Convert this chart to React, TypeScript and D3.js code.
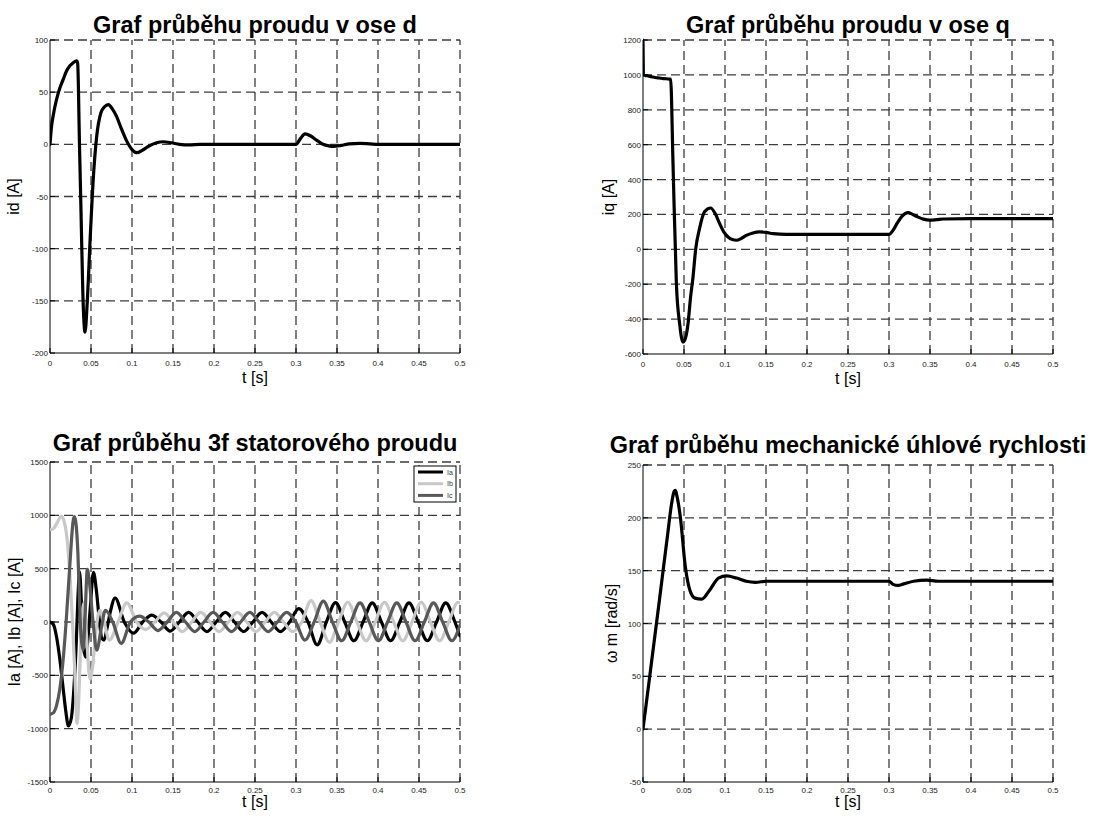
import React from "react";
import * as d3 from "d3";

type Pt = [number, number];

// time axis shared by all four plots
const timeTicks = [0, 0.05, 0.1, 0.15, 0.2, 0.25, 0.3, 0.35, 0.4, 0.45, 0.5];

const idTicks = [-200, -150, -100, -50, 0, 50, 100];
const iqTicks = [-600, -400, -200, 0, 200, 400, 600, 800, 1000, 1200];
const iabcTicks = [-1500, -1000, -500, 0, 500, 1000, 1500];
const omegaTicks = [-50, 0, 50, 100, 150, 200, 250];

// id [A]
const idData: Pt[] = [
  [0, 0], [0.002, 18], [0.004, 28], [0.008, 43], [0.012, 54], [0.016, 62], [0.02, 70],
  [0.024, 75], [0.028, 78], [0.0325, 80], [0.0337, 78], [0.036, -2], [0.038, -71],
  [0.04, -141], [0.0427, -180], [0.0455, -150], [0.049, -90], [0.053, -30], [0.057, 8],
  [0.062, 30], [0.0665, 36], [0.0711, 38], [0.076, 34], [0.081, 27], [0.087, 15],
  [0.093, 4], [0.1, -5], [0.106, -8], [0.112, -6], [0.12, -2], [0.13, 1.5], [0.138, 2.5],
  [0.148, 1.5], [0.158, 0], [0.17, -0.5], [0.183, 0], [0.3, 0], [0.305, 5], [0.311, 10],
  [0.318, 8], [0.325, 4], [0.333, 0], [0.34, -1.5], [0.346, -2], [0.355, -1],
  [0.365, 0.5], [0.378, 1], [0.39, 0.5], [0.4, 0], [0.5, 0],
];

// iq [A]
const iqData: Pt[] = [
  [0, 1200], [0.0004, 1000], [0.005, 995], [0.01, 990], [0.015, 985], [0.02, 982],
  [0.025, 979], [0.0325, 976], [0.0337, 975], [0.0366, 492], [0.0407, -197],
  [0.0447, -427], [0.0488, -532], [0.0508, -522], [0.0549, -427], [0.058, -274],
  [0.061, -159], [0.0642, 0], [0.069, 120], [0.075, 215], [0.0825, 237], [0.088, 205],
  [0.0935, 147], [0.0985, 100], [0.1037, 71], [0.109, 56], [0.114, 52], [0.12, 63],
  [0.126, 80], [0.134, 94], [0.142, 100], [0.15, 97], [0.1585, 90], [0.175, 86],
  [0.3, 86], [0.305, 110], [0.31, 150], [0.316, 190], [0.323, 210], [0.329, 200],
  [0.335, 186], [0.342, 173], [0.3496, 167], [0.358, 170], [0.366, 174], [0.4, 176],
  [0.5, 176],
];

// stator phase currents [A]
const iaData: Pt[] = [
  [0, 0], [0.004, -21], [0.008, -140], [0.012, -349], [0.016, -620], [0.0195, -850],
  [0.0224, -975], [0.026, -900], [0.029, -640], [0.032, -200], [0.034, 220], [0.036, 470],
  [0.0385, 150], [0.041, -250], [0.0435, -330], [0.046, -180], [0.049, 120], [0.053, 465],
  [0.0565, 300], [0.06, 30], [0.063, -150], [0.066, -170], [0.0695, -60], [0.074, 110],
  [0.0794, 225], [0.0906, 0], [0.1018, -105], [0.113, 0], [0.1242, 65], [0.1354, 0],
  [0.1466, -85], [0.1578, 0], [0.169, 90], [0.1802, 0], [0.1914, -90], [0.2026, 0],
  [0.2138, 90], [0.225, 0], [0.2362, -90], [0.2474, 0], [0.2586, 90], [0.2698, 0],
  [0.281, -90], [0.2922, 0], [0.3034, 125], [0.3146, 0], [0.3258, -215], [0.337, 0],
  [0.3482, 182], [0.3594, 0], [0.3706, -176], [0.3818, 0], [0.393, 180], [0.4042, 0],
  [0.4154, -176], [0.4266, 0], [0.4378, 180], [0.449, 0], [0.4602, -176], [0.4714, 0],
  [0.4826, 180], [0.4938, 0], [0.5, -130],
];

const ibData: Pt[] = [
  [0, 866], [0.004, 873], [0.008, 920], [0.0138, 990], [0.017, 950], [0.02, 831],
  [0.024, 473], [0.028, -95], [0.0305, -520], [0.033, -950], [0.0345, -820], [0.037, -300],
  [0.0395, 100], [0.0418, 185], [0.0445, -120], [0.0488, -535], [0.052, -420], [0.056, -80],
  [0.061, 110], [0.066, 0], [0.0722, -170], [0.083, 0], [0.0937, 180], [0.1055, 0],
  [0.1167, -70], [0.1279, 0], [0.1391, 85], [0.1503, 0], [0.1615, -90], [0.1727, 0],
  [0.1839, 90], [0.1951, 0], [0.2063, -90], [0.2175, 0], [0.2287, 90], [0.2399, 0],
  [0.2511, -90], [0.2623, 0], [0.2735, 90], [0.2847, 0], [0.2959, -90], [0.3071, 0],
  [0.3183, 200], [0.3295, 0], [0.3407, -190], [0.3519, 0], [0.3631, 185], [0.3743, 0],
  [0.3855, -176], [0.3967, 0], [0.4079, 185], [0.4191, 0], [0.4303, -176], [0.4415, 0],
  [0.4527, 185], [0.4639, 0], [0.4751, -176], [0.4863, 0], [0.4975, 185], [0.5, 180],
];

const icData: Pt[] = [
  [0, -866], [0.004, -852], [0.008, -781], [0.012, -627], [0.016, -356], [0.02, 39],
  [0.024, 509], [0.0285, 960], [0.03, 987], [0.032, 900], [0.034, 650], [0.036, 200],
  [0.038, -150], [0.0405, -263], [0.043, 100], [0.0455, 494], [0.048, 380], [0.0525, 0],
  [0.057, -263], [0.0625, -60], [0.0675, 110], [0.0765, 0], [0.0869, -200], [0.0981, 0],
  [0.1093, 55], [0.1205, 0], [0.1317, -80], [0.1429, 0], [0.1541, 90], [0.1653, 0],
  [0.1765, -90], [0.1877, 0], [0.1989, 90], [0.2101, 0], [0.2213, -90], [0.2325, 0],
  [0.2437, 90], [0.2549, 0], [0.2661, -90], [0.2773, 0], [0.2885, 90], [0.2997, 0],
  [0.3109, -170], [0.3221, 0], [0.3333, 195], [0.3445, 0], [0.3557, -176], [0.3669, 0],
  [0.3781, 180], [0.3893, 0], [0.4005, -176], [0.4117, 0], [0.4229, 180], [0.4341, 0],
  [0.4453, -176], [0.4565, 0], [0.4677, 180], [0.4789, 0], [0.4901, -176], [0.5, -30],
];

// mechanical speed [rad/s]
const omegaData: Pt[] = [
  [0, 0], [0.01, 61], [0.02, 122], [0.03, 184], [0.035, 214], [0.038, 225], [0.0395, 226],
  [0.041, 222], [0.0455, 201], [0.0516, 154], [0.057, 132], [0.0634, 124], [0.0716, 123],
  [0.0817, 132], [0.092, 143], [0.102, 145], [0.114, 143], [0.126, 140], [0.137, 139],
  [0.151, 140], [0.3, 140], [0.305, 137], [0.311, 136], [0.318, 137.5], [0.33, 140],
  [0.346, 141], [0.36, 140], [0.5, 140],
];

const phaseNames = ["Ia", "Ib", "Ic"];
const phaseColors = ["#000000", "#c8c8c8", "#585858"];

const FONT = "'Liberation Sans', Arial, Helvetica, sans-serif";

type Box = { left: number; right: number; top: number; bottom: number };
type Series = { data: Pt[]; color: string };

function fmtTime(d: number) {
  return d === 0 ? "0" : String(+d.toFixed(2));
}

function Panel(props: {
  id: string;
  box: Box;
  yTicks: number[];
  title: string;
  titleY: number;
  yLabel: string;
  yLabelX: number;
  tickGap: number;
  xLabelGap: number;
  series: Series[];
  legend?: boolean;
}) {
  const { id, box, yTicks, title, titleY, yLabel, yLabelX, tickGap, xLabelGap, series, legend } = props;
  const x = d3.scaleLinear().domain([0, 0.5]).range([box.left, box.right]);
  const y = d3
    .scaleLinear()
    .domain([yTicks[0], yTicks[yTicks.length - 1]])
    .range([box.bottom, box.top]);
  const line = d3
    .line<Pt>()
    .x((d) => x(d[0]))
    .y((d) => y(d[1]))
    .curve(d3.curveMonotoneX);
  const cx = (box.left + box.right) / 2;
  const cy = (box.top + box.bottom) / 2;
  const gridColor = "#3c3c3c";
  const dash = "9,5";

  return (
    <g fontFamily={FONT}>
      <defs>
        <clipPath id={"clip-" + id}>
          <rect x={box.left} y={box.top - 2} width={box.right - box.left} height={box.bottom - box.top + 4} />
        </clipPath>
      </defs>
      {/* grid */}
      {timeTicks.slice(1).map((t) => (
        <line key={"gx" + t} x1={x(t)} x2={x(t)} y1={box.bottom} y2={box.top}
          stroke={gridColor} strokeWidth={1.3} strokeDasharray={dash} />
      ))}
      {yTicks.slice(1).map((v) => (
        <line key={"gy" + v} x1={box.left} x2={box.right} y1={y(v)} y2={y(v)}
          stroke={gridColor} strokeWidth={1.3} strokeDasharray={dash} />
      ))}
      {/* axes */}
      <line x1={box.left} x2={box.right} y1={box.bottom} y2={box.bottom} stroke="#000" strokeWidth={1} />
      <line x1={box.left} x2={box.left} y1={box.bottom} y2={box.top} stroke="#000" strokeWidth={1} />
      {timeTicks.map((t) => (
        <g key={"tx" + t}>
          <line x1={x(t)} x2={x(t)} y1={box.bottom} y2={box.bottom - 5} stroke="#000" />
          <text x={x(t)} y={box.bottom + tickGap} fontSize={8} textAnchor="middle" fill="#222">
            {fmtTime(t)}
          </text>
        </g>
      ))}
      {yTicks.map((v) => (
        <g key={"ty" + v}>
          <line x1={box.left} x2={box.left + 5} y1={y(v)} y2={y(v)} stroke="#000" />
          <text x={box.left - 2} y={y(v) + 3} fontSize={8} textAnchor="end" fill="#222">
            {v}
          </text>
        </g>
      ))}
      {/* data */}
      <g clipPath={`url(#clip-${id})`}>
        {series.map((s, i) => (
          <path key={i} d={line(s.data) || ""} fill="none" stroke={s.color}
            strokeWidth={3.2} strokeLinejoin="round" strokeLinecap="round" />
        ))}
      </g>
      {/* labels */}
      <text x={cx} y={titleY} fontSize={23.5} fontWeight="bold" textAnchor="middle" fill="#000">
        {title}
      </text>
      <text x={cx} y={box.bottom + xLabelGap} fontSize={16} textAnchor="middle" fill="#000">
        t [s]
      </text>
      <text transform={`translate(${yLabelX},${cy}) rotate(-90)`} fontSize={16} textAnchor="middle" fill="#000">
        {yLabel}
      </text>
      {legend && (
        <g>
          <rect x={box.right - 46} y={box.top + 4} width={42} height={36} fill="#fff" stroke="#000" strokeWidth={1} />
          {series.map((s, i) => (
            <g key={"lg" + i}>
              <line x1={box.right - 42} x2={box.right - 17} y1={box.top + 10 + i * 11.7} y2={box.top + 10 + i * 11.7}
                stroke={s.color} strokeWidth={3} />
              <text x={box.right - 13} y={box.top + 12.5 + i * 11.7} fontSize={7} fill="#333">
                {phaseNames[i]}
              </text>
            </g>
          ))}
        </g>
      )}
    </g>
  );
}

export default function App() {
  return (
    <div style={{ position: "absolute", left: 0, top: 0 }}>
      <svg width={1100} height={816} style={{ display: "block", background: "#fff" }}>
        <Panel
          id="id"
          box={{ left: 50, right: 460, top: 40, bottom: 353 }}
          yTicks={idTicks}
          title="Graf průběhu proudu v ose d"
          titleY={33}
          yLabel="id [A]"
          yLabelX={19}
          tickGap={13}
          xLabelGap={30}
          series={[{ data: idData, color: "#000" }]}
        />
        <Panel
          id="iq"
          box={{ left: 643, right: 1053, top: 40, bottom: 354 }}
          yTicks={iqTicks}
          title="Graf průběhu proudu v ose q"
          titleY={33}
          yLabel="iq [A]"
          yLabelX={614}
          tickGap={13}
          xLabelGap={30}
          series={[{ data: iqData, color: "#000" }]}
        />
        <Panel
          id="iabc"
          box={{ left: 50, right: 460, top: 462, bottom: 782 }}
          yTicks={iabcTicks}
          title="Graf průběhu 3f statorového proudu"
          titleY={451}
          yLabel="Ia [A], Ib [A], Ic [A]"
          yLabelX={20}
          tickGap={11}
          xLabelGap={25}
          series={[iaData, ibData, icData].map((d, i) => ({ data: d, color: phaseColors[i] }))}
          legend
        />
        <Panel
          id="omega"
          box={{ left: 643, right: 1053, top: 465, bottom: 782 }}
          yTicks={omegaTicks}
          title="Graf průběhu mechanické úhlové rychlosti"
          titleY={453}
          yLabel="ω m [rad/s]"
          yLabelX={617}
          tickGap={11}
          xLabelGap={25}
          series={[{ data: omegaData, color: "#000" }]}
        />
      </svg>
    </div>
  );
}
